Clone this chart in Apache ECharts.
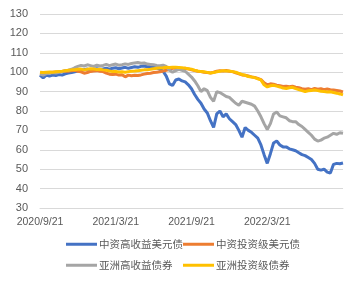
<!DOCTYPE html>
<html><head><meta charset="utf-8">
<script src="https://cdn.jsdelivr.net/npm/echarts@6/dist/echarts.min.js"></script>
<style>html,body{margin:0;padding:0;background:#fff}#c{width:360px;height:281px}</style>
</head><body><div id="c"></div>
<script>
const categories = ("2020/9/21 2020/9/28 2020/10/5 2020/10/13 2020/10/21 2020/10/28 2020/11/5 2020/11/13 2020/11/21 2020/11/28 " +
"2020/12/5 2020/12/13 2020/12/21 2020/12/28 2021/1/5 2021/1/13 2021/1/21 2021/1/28 2021/2/5 2021/2/13 " +
"2021/2/21 2021/2/28 2021/3/5 2021/3/13 2021/3/21 2021/3/28 2021/4/5 2021/4/13 2021/4/21 2021/4/28 " +
"2021/5/5 2021/5/13 2021/5/21 2021/5/28 2021/6/5 2021/6/13 2021/6/21 2021/6/28 2021/7/5 2021/7/13 " +
"2021/7/21 2021/7/28 2021/8/5 2021/8/13 2021/8/21 2021/8/28 2021/9/5 2021/9/13 2021/9/21 2021/9/28 " +
"2021/10/5 2021/10/13 2021/10/21 2021/10/28 2021/11/5 2021/11/13 2021/11/21 2021/11/28 2021/12/5 2021/12/13 " +
"2021/12/21 2021/12/28 2022/1/5 2022/1/13 2022/1/21 2022/1/28 2022/2/5 2022/2/13 2022/2/21 2022/2/28 " +
"2022/3/5 2022/3/13 2022/3/21 2022/3/28 2022/4/5 2022/4/13 2022/4/21 2022/4/28 2022/5/5 2022/5/13 " +
"2022/5/21 2022/5/28 2022/6/5 2022/6/13 2022/6/21 2022/6/28 2022/7/5 2022/7/13 2022/7/21 2022/7/28 " +
"2022/8/5 2022/8/13 2022/8/21 2022/8/28 2022/9/5 2022/9/13 2022/9/21").split(" ");

const xTickLabels = ["2020/9/21", "2021/3/21", "2021/9/21", "2022/3/21"];

const seriesNames = ["中资高收益美元债", "中资投资级美元债", "亚洲高收益债券", "亚洲投资级债券"];

const cnHighYield = [98.5,97,98.5,98,98.5,98.3,98.8,98.5,99.2,99.6,
99.8,100.2,100.6,101,101.3,101.6,101.2,101.5,101.8,101.4,
101.7,102,101.6,102,102.3,101.8,102.2,102.5,102,102.4,
102.8,102.5,103,103.2,102.8,103,102.6,102.2,101.5,100.5,
98,94,93.2,96,96.5,95.5,95,93.5,91.5,88.5,
86,84,81,79,75,71.5,78.5,80,77,78.5,
76,74.5,73,70,66.5,71.5,70,69,67.5,66,
62.5,57.5,53,58,63.5,64.5,62.5,61.5,61.5,60.5,
60,59.5,58.5,57.5,57,56,55,53,50,49.5,
50,48.5,48,52.5,53,52.8,53.2];

const cnInvGrade = [99.5,99.3,99.6,99.8,100,100.1,100.2,100.4,100.6,100.5,
100.8,101,100.5,100.2,99.5,99.8,100.4,100.6,100.8,100.5,
100.3,99.5,99,98.8,99,98.5,98.7,97.6,98.5,98.2,
98.4,98.3,98.6,99,99.3,99.5,99.8,100,100.2,100.6,
101,101.5,102,102,102,101.8,102,101.7,101.2,100.8,
100.5,100.4,100,99.8,99.6,100,100.5,100.8,100.6,100.9,
100.5,100.3,99.7,99.2,98.6,98.4,98,97.6,97.3,96.8,
96.2,94.5,93.5,94,93.8,93.3,93,92.6,92.8,92.5,
92.8,92.3,92,91.5,91.2,91.5,91,91.6,91.2,91.5,
91,91.3,91,90.8,90.6,90.3,89.8];

const asiaHighYield = [99,98.5,99.3,99.5,99.8,99.6,100,100.3,100.8,101,
101.5,102.3,103,103.5,103.2,103.8,103.4,103,103.6,103.2,
103.5,104,103.4,103.8,104.2,103.6,103.9,104.3,104,104.5,
104.8,105,104.6,104.8,104.2,104,103.8,103.5,103.3,103.6,
103,101,100,100.8,101.5,101,100.5,99,97.5,95.5,
93,90,91.5,90.5,87,85,90,89.5,88.5,87.5,
87,85.5,84,83,85,84.5,84,83.5,82.5,80,
77,73.5,70.5,73.5,78.5,79.5,77.5,77,76.5,75,
74.5,74.5,73,72,70.5,69,67.5,65.5,64.5,65,
66,66.5,67.5,68.5,68,68.8,68.5];

const asiaInvGrade = [100,99.8,100,100.1,100,100.2,100.3,100.5,100.8,101,
101.2,101.3,101.5,101.6,101.2,101.5,101.8,101.6,101.4,101.5,
101.2,101,100.6,100.3,100.4,100.1,100.2,100,100.3,100.5,
100.6,100.8,101,101.2,101.3,101.5,101.8,102,102.2,102.3,
102.5,102.4,102.6,102.5,102.4,102.3,102.1,101.8,101.5,101,
100.6,100.3,100.2,99.9,99.6,99.8,100.2,100.5,100.8,100.6,
100.6,100.3,100,99.4,98.8,98.4,97.8,97.5,97.2,96.6,
96,93.5,92.4,93,93.3,92.8,92.4,91.8,91.6,92,
92.2,91.5,91,90.5,90,90.4,90.6,90.8,90.5,90.2,
90,89.8,89.9,89.5,89.2,88.8,88.3];

const colors = ["#4472C4", "#ED7D31", "#A5A5A5", "#FFC000"];
const allData = [cnHighYield, cnInvGrade, asiaHighYield, asiaInvGrade];

const chart = echarts.init(document.getElementById('c'), null, {renderer: 'canvas'});
const legendPos = [[66, 239], [183, 239], [66, 260], [183, 260]];
const txt = {color: '#595959', fontSize: 10.5, padding: [0, 0, 0, -3], fontFamily: '"Noto Sans CJK SC", "Liberation Sans", sans-serif'};

chart.setOption({
  animation: false,
  color: colors,
  grid: {left: 40, right: 17, top: 14, bottom: 73},
  legend: seriesNames.map((n, i) => ({
    data: [n], left: legendPos[i][0], top: legendPos[i][1],
    icon: 'rect', itemWidth: 31, itemHeight: 3, padding: 0,
    textStyle: txt
  })),
  xAxis: {
    type: 'category', data: categories, boundaryGap: false,
    axisLine: {lineStyle: {color: '#D9D9D9'}},
    axisTick: {show: false},
    axisLabel: {
      interval: (idx, val) => xTickLabels.includes(val),
      color: '#595959', fontSize: 10.5, margin: 9,
      fontFamily: '"Liberation Sans", sans-serif'
    }
  },
  yAxis: {
    type: 'value', min: 30, max: 130, interval: 10,
    axisLine: {show: false}, axisTick: {show: false},
    splitLine: {lineStyle: {color: '#D9D9D9', width: 1}},
    axisLabel: {color: '#595959', fontSize: 11, margin: 12, fontFamily: '"Liberation Sans", sans-serif'}
  },
  series: seriesNames.map((n, i) => ({
    name: n, type: 'line', data: allData[i], showSymbol: false, symbol: 'none',
    lineStyle: {width: 3, color: colors[i]}, itemStyle: {color: colors[i]}
  }))
});
</script></body></html>
